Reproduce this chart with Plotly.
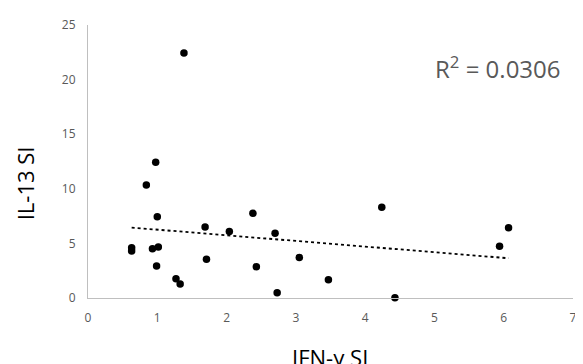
import numpy as np
import plotly.graph_objects as go

ifn_si = [1.385, 0.977, 0.842, 1.00, 0.63, 0.63, 0.93, 1.015, 0.99, 1.27, 1.33,
          1.69, 1.71, 2.04, 2.38, 2.43, 2.70, 2.73, 3.05, 3.47, 4.24, 4.43, 5.94, 6.07]
il13_si = [22.44, 12.44, 10.34, 7.44, 4.6, 4.3, 4.51, 4.67, 2.93, 1.77, 1.28,
           6.5, 3.54, 6.1, 7.75, 2.87, 5.92, 0.49, 3.72, 1.68, 8.3, 0.03, 4.73, 6.43]
x_ticks = [0, 1, 2, 3, 4, 5, 6, 7]
y_ticks = [0, 5, 10, 15, 20, 25]
r2_label = "R<sup>2</sup> = 0.0306"

x = np.array(ifn_si)
y = np.array(il13_si)
slope, intercept = np.polyfit(x, y, 1)
tx = np.array([x.min(), x.max()])
ty = slope * tx + intercept

fig = go.Figure()
fig.add_trace(go.Scatter(x=tx, y=ty, mode="lines",
                         line=dict(color="#000000", width=1.8, dash="dot"),
                         hoverinfo="skip", showlegend=False, cliponaxis=False))
fig.add_trace(go.Scatter(x=ifn_si, y=il13_si, mode="markers",
                         marker=dict(color="#000000", size=7.5),
                         showlegend=False, cliponaxis=False))

tickfont = dict(family="Open Sans", size=12, color="#595959")
fig.update_xaxes(range=[0, 7], tickvals=x_ticks, showgrid=False, zeroline=False,
                 showline=True, linecolor="#BFBFBF", linewidth=1, ticks="",
                 tickfont=tickfont, fixedrange=True, automargin=False,
                 ticklabelstandoff=9)
fig.update_yaxes(range=[0, 25], tickvals=y_ticks, showgrid=False, zeroline=False,
                 showline=True, linecolor="#BFBFBF", linewidth=1, ticks="",
                 tickfont=tickfont, fixedrange=True, automargin=False,
                 ticklabelstandoff=9)

fig.add_annotation(text="IFN-γ SI", xref="paper", yref="paper", x=0.499, y=-0.215,
                   xanchor="center", yanchor="middle", showarrow=False,
                   font=dict(family="Open Sans", size=22, color="#000000"))
fig.add_annotation(text="IL-13 SI", xref="paper", yref="paper", x=-0.13, y=0.42,
                   xanchor="center", yanchor="middle", showarrow=False, textangle=-90,
                   font=dict(family="Open Sans", size=22, color="#000000"))
fig.add_annotation(text=r2_label, xref="paper", yref="paper",
                   x=0.845, y=0.845, xanchor="center", yanchor="middle", showarrow=False,
                   font=dict(family="Open Sans", size=24, color="#595959"))

# the page body adds an 8px offset, so margins compensate
fig.update_layout(width=583, height=364, margin=dict(l=80, r=18, t=17, b=74),
                  paper_bgcolor="white", plot_bgcolor="white")
fig.write_html("out.html")
